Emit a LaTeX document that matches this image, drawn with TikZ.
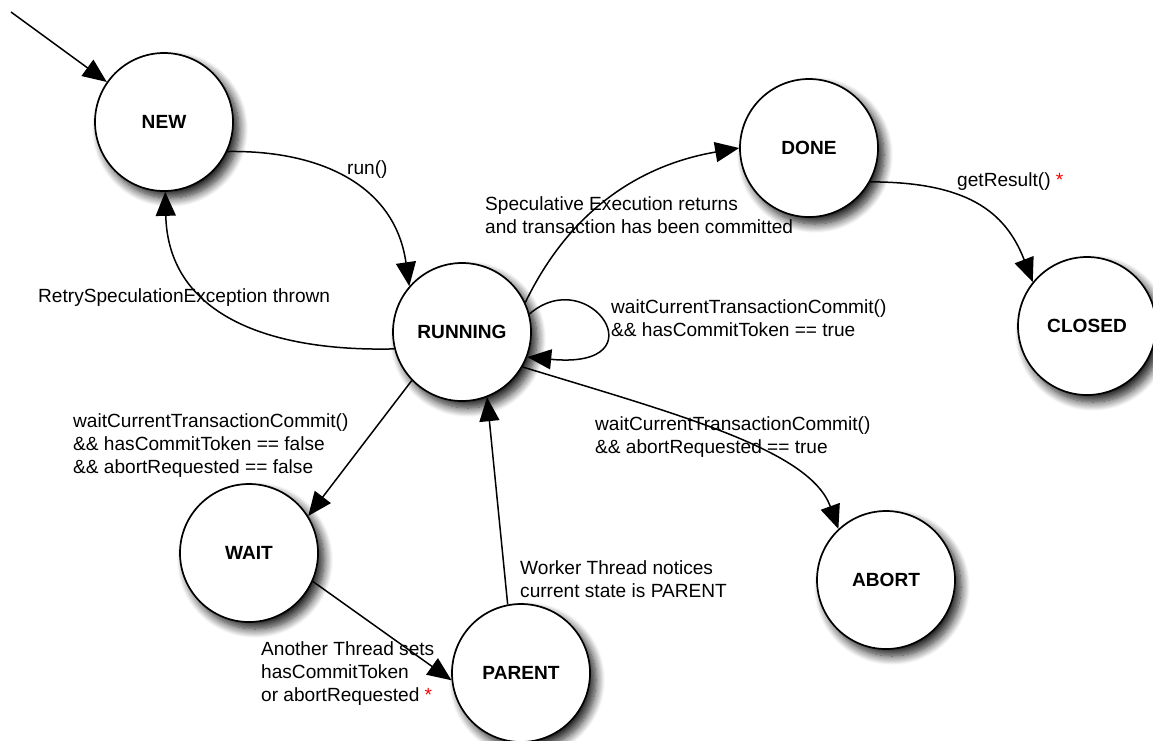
\documentclass[tikz,border=0pt]{standalone}
\usepackage{fontspec}
\setmainfont{Liberation Sans}
\usetikzlibrary{arrows.meta,shadows.blur}
\begin{document}
\begin{tikzpicture}[x=1pt,y=-1pt,
  state/.style={circle, draw, line width=1.7pt, fill=white, minimum size=138pt,
    inner sep=0pt, font=\bfseries\fontsize{19.1}{23}\selectfont,
    blur shadow={shadow xshift=6pt, shadow yshift=-7pt, shadow blur radius=9pt,
      shadow blur steps=12, shadow opacity=90}},
  trans/.style={line width=1.5pt, -{Triangle[length=24pt,width=20pt]}},
  lbl/.style={anchor=north west, align=left, inner sep=0pt,
    font=\fontsize{19.1}{23}\selectfont}
]
\useasboundingbox (0,0) rectangle (1153,740);

% states
\node[state] (new)     at (164,122)  {NEW};
\node[state] (running) at (462,332)  {RUNNING};
\node[state] (done)    at (809,148)  {DONE};
\node[state] (closed)  at (1087,326) {CLOSED};
\node[state] (wait)    at (249,553)  {WAIT};
\node[state] (parent)  at (521,673)  {PARENT};
\node[state] (abort)   at (886,580)  {ABORT};

% initial transition
\coordinate (init) at (11,12);
\draw[trans] (init) -- (new.145);

% transitions
\draw[trans] (new.-25) .. controls (320,150) and (395,185) .. (running.139);
\draw[trans] (running.194) .. controls (260,352) and (168,310) .. (new.-89);
\draw[trans] (running.25) .. controls (570,210) and (640,165) .. (done.180);
\draw[trans] (running.15.6) .. controls (590,262) and (662,370) .. (running.-21);
\draw[trans] (done.-29) .. controls (965,182) and (1005,210) .. (closed.141.5);
\draw[trans] (running.-30) .. controls (680,415) and (810,450) .. (abort.133);
\draw[trans] (running.-136) -- (wait.32);
\draw[trans] (wait.-24) -- (parent.186);
\draw[trans] (parent.101) -- (running.-69);

% transition labels
\node[lbl] (l-run)    at (347,160)   {run()};
\node[lbl] (l-done)   at (485,196.5) {Speculative Execution returns\\and transaction has been committed};
\node[lbl] (l-retry)  at (38,288.5)  {RetrySpeculationException thrown};
\node[lbl] (l-loop)   at (611,299.5) {waitCurrentTransactionCommit()\\\&\& hasCommitToken == true};
\node[lbl] (l-result) at (957,172.5) {getResult() \textcolor{red}{*}};
\node[lbl] (l-wait)   at (73,413.5)  {waitCurrentTransactionCommit()\\\&\& hasCommitToken == false\\\&\& abortRequested == false};
\node[lbl] (l-abort)  at (595,416.5) {waitCurrentTransactionCommit()\\\&\& abortRequested == true};
\node[lbl] (l-parent) at (520,560)   {Worker Thread notices\\current state is PARENT};
\node[lbl] (l-other)  at (261,641)   {Another Thread sets\\hasCommitToken\\or abortRequested \textcolor{red}{*}};
\end{tikzpicture}
\end{document}
